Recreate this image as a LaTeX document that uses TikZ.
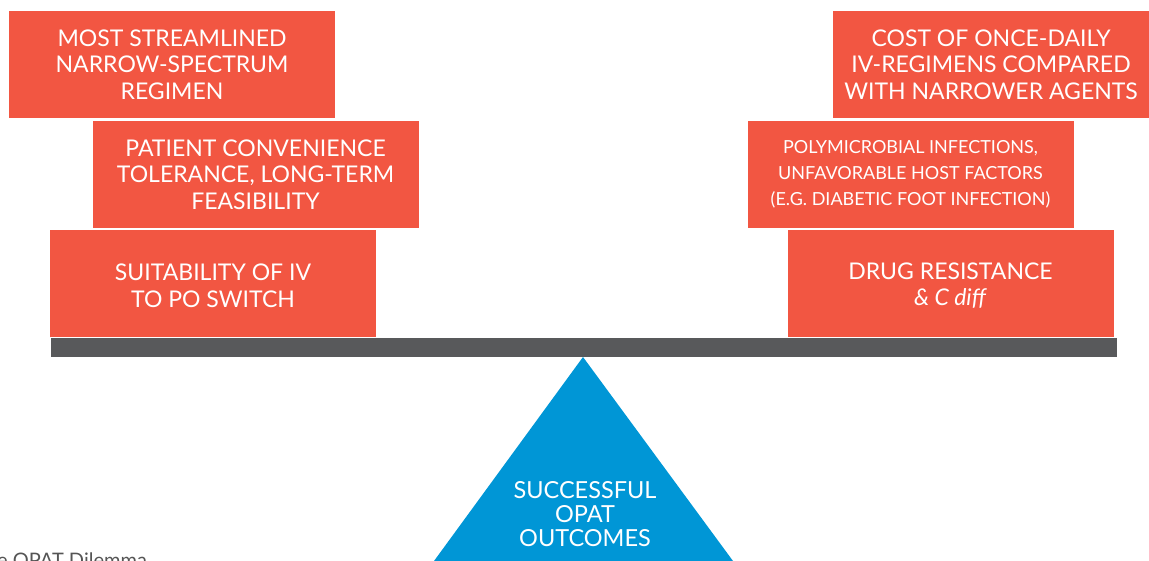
\documentclass[tikz,border=0pt]{standalone}
\usepackage{fontspec}
\setmainfont{Lato}
\definecolor{boxred}{HTML}{F25642}
\definecolor{bargray}{HTML}{58595B}
\definecolor{fulcrum}{HTML}{0096D6}
\definecolor{captiongray}{HTML}{555555}
\newcommand{\lowerline}{\rule{0pt}{21pt}}
\tikzset{
  weight/.style={fill=boxred, text=white, align=center, inner sep=0pt,
    minimum width=326pt, minimum height=107pt,
    font=\fontsize{23}{26.5}\selectfont},
  smallweight/.style={weight, font=\fontsize{18}{26}\selectfont},
}
\begin{document}
\begin{tikzpicture}[x=1pt,y=-1pt]
\useasboundingbox (0,0) rectangle (1149,561);
\clip (0,0) rectangle (1149,561);
% left weights
\node[weight] (l1) at (172,64.5) {MOST STREAMLINED\\NARROW-SPECTRUM\\REGIMEN};
\node[weight] (l2) at (255.5,174.5) {PATIENT CONVENIENCE\\TOLERANCE, LONG-TERM\\FEASIBILITY};
\node[weight] (l3) at (213,283.5) {\lowerline SUITABILITY OF IV\\TO PO SWITCH};
% right weights
\node[weight, minimum width=316pt] (r1) at (991,64.5) {COST OF ONCE-DAILY\\IV-REGIMENS COMPARED\\WITH NARROWER AGENTS};
\node[smallweight] (r2) at (910.5,174.5) {POLYMICROBIAL INFECTIONS,\\UNFAVORABLE HOST FACTORS\\(E.G. DIABETIC FOOT INFECTION)};
\node[weight] (r3) at (950.5,283.5) {\lowerline DRUG RESISTANCE\\\textit{\& C diff}};
% beam
\fill[bargray] (51,338) rectangle (1117,357);
% fulcrum
\coordinate (apex) at (583,357);
\fill[fulcrum] (apex) -- (434,561) -- (733,561) -- cycle;
\node[text=white, align=center, font=\fontsize{23.5}{24}\selectfont] (fulcrumtext) at (585,514) {SUCCESSFUL\\OPAT\\OUTCOMES};
% caption (cut off)
\node[anchor=base west, text=captiongray, font=\fontsize{20}{24}\selectfont, inner sep=0pt] (caption) at (-3,567) {e OPAT Dilemma};
\end{tikzpicture}
\end{document}
